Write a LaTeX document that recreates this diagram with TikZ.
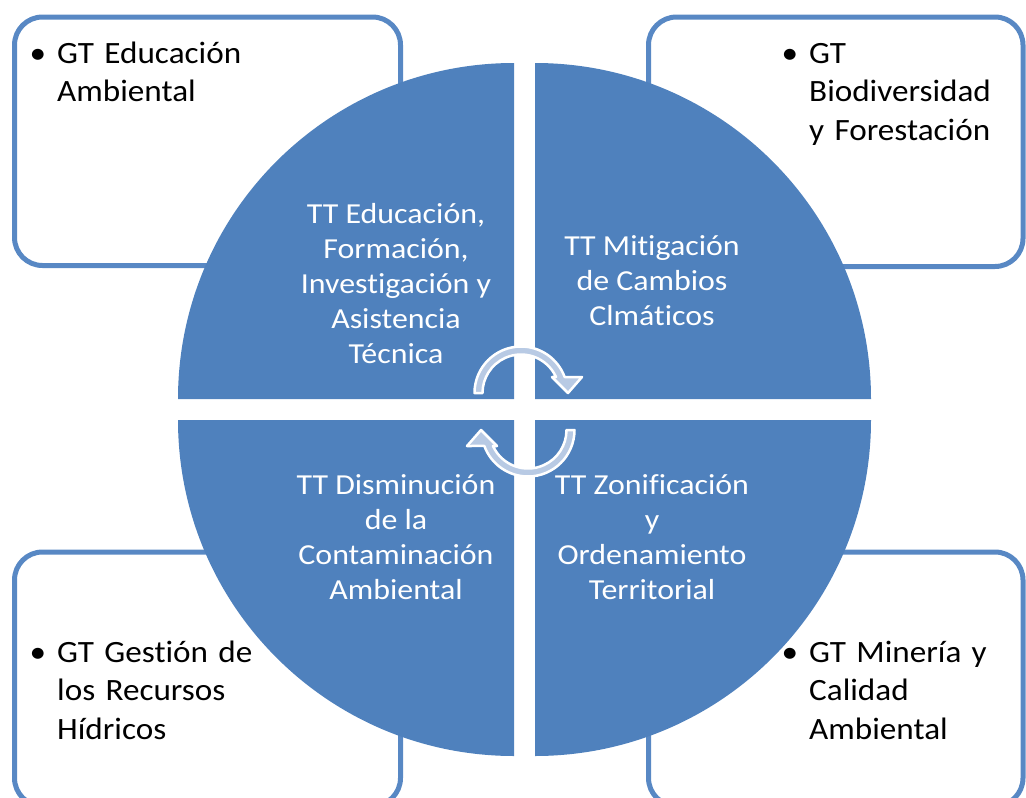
\documentclass[tikz,border=0pt]{standalone}
\usepackage{fontspec}
\setmainfont{Carlito}
\newfontfamily\qfont{Carlito}[FakeStretch=1.1,Ligatures=NoCommon]
\newfontfamily\bfont{Carlito}[FakeStretch=1.07,Ligatures=NoCommon]
\definecolor{qblue}{RGB}{79,129,189}
\definecolor{bordblue}{RGB}{88,136,196}
\definecolor{arrowfill}{RGB}{184,202,228}
\tikzset{
  gtbox/.style={draw=bordblue, line width=5pt, fill=white, rounded corners=28pt},
  quad/.style={fill=qblue, draw=none},
  tttext/.style={text=white, align=center, inner sep=0pt,
    font=\qfont\fontsize{29}{35}\selectfont},
  gttext/.style={text=black, align=left, inner sep=0pt, anchor=base west,
    text width=215pt, font=\bfont\fontsize{31}{38.5}\selectfont},
  cyclearrow/.pic={
    \filldraw[fill=arrowfill, draw=white, line width=2.5pt, line join=round]
      (180:46.5) arc[start angle=180, end angle=20.1, radius=46.5]
      -- (61,16) -- (47,0) -- (31,16) -- (24.6:38.5)
      arc[start angle=24.6, end angle=180, radius=38.5] -- cycle;
  }
}
\newcommand{\bul}{\llap{\textbullet\hspace{11pt}}}
\begin{document}
\begin{tikzpicture}[x=1pt,y=1pt]
\useasboundingbox (0,0) rectangle (1026,-798);
% corner boxes
\draw[gtbox] (14.5,-17) rectangle (400.5,-265.5);
\draw[gtbox] (648.5,-17) rectangle (1023,-266.5);
\draw[gtbox] (14.5,-552) rectangle (400.5,-806);
\draw[gtbox] (648.5,-552) rectangle (1023,-806);
% quadrants
\fill[quad] (514,-399) -- ++(-336,0) arc[start angle=180, end angle=90, radius=336] -- cycle;
\fill[quad] (535,-399) -- ++(0,336) arc[start angle=90, end angle=0, radius=336] -- cycle;
\fill[quad] (535,-420) -- ++(336,0) arc[start angle=0, end angle=-90, radius=336] -- cycle;
\fill[quad] (514,-420) -- ++(0,-336) arc[start angle=-90, end angle=-180, radius=336] -- cycle;
% cycle arrows
\pic at (521,-393) {cyclearrow};
\pic[rotate=180] at (528,-430) {cyclearrow};
% quadrant texts
\node[tttext] (tl) at (396,-284) {TT Educación,\\Formación,\\Investigación y\\Asistencia\\Técnica};
\node[tttext] (tr) at (652,-281) {TT Mitigación\\de Cambios\\Clmáticos};
\node[tttext] (bl) at (396,-537) {TT Disminución\\de la\\Contaminación\\Ambiental};
\node[tttext] (br) at (652,-537) {TT Zonificación\\y\\Ordenamiento\\Territorial};
% box texts
\node[gttext] (gtl) at (57,-63) {\bul GT Educación\\Ambiental};
\node[gttext] (gtr) at (809,-63) {\bul GT\\Biodiversidad\\y Forestación};
\node[gttext] (gbl) at (57,-662) {\bul GT Gestión de\\los Recursos\\Hídricos};
\node[gttext] (gbr) at (809,-662) {\bul GT Minería y\\Calidad\\Ambiental};
\end{tikzpicture}
\end{document}
